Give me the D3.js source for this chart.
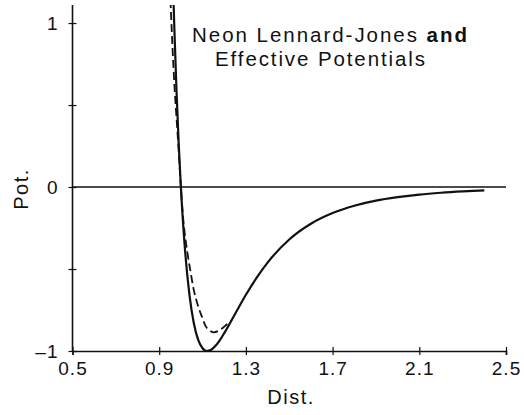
<!DOCTYPE html>
<html>
<head>
<meta charset="utf-8">
<script src="https://cdn.jsdelivr.net/npm/d3@7"></script>
<style>
  body { margin: 0; background: #fff; }
  svg text { font-family: "Liberation Sans", Arial, sans-serif; fill: #111; }
</style>
</head>
<body>
<svg id="chart" width="524" height="415"></svg>
<script>
// x ticks / y ticks
const xTicks = [0.5, 0.9, 1.3, 1.7, 2.1, 2.5];
const yTicks = [-1, -0.5, 0, 0.5, 1];

// Lennard-Jones potential (solid)
const ljDist = [0.965, 0.97, 0.98, 0.99, 1.00, 1.02, 1.04, 1.06, 1.08, 1.10, 1.12, 1.14, 1.16, 1.18, 1.20,
                1.25, 1.30, 1.35, 1.40, 1.50, 1.60, 1.70, 1.80, 1.90, 2.00, 2.10, 2.20, 2.30, 2.40];
const ljPot  = [1.178, 0.963, 0.582, 0.264, 0.0, -0.398, -0.663, -0.832, -0.932, -0.983, -1.0, -0.992, -0.968, -0.933, -0.891,
                -0.774, -0.657, -0.552, -0.461, -0.320, -0.224, -0.159, -0.114, -0.083, -0.062, -0.046, -0.035, -0.027, -0.021];

// effective potential (dashed), joins the solid curve near 1.235
const effDist = [0.952, 0.958, 0.964, 0.972, 0.981, 0.990, 1.000, 1.014, 1.030, 1.045, 1.060, 1.078, 1.097, 1.12, 1.15, 1.18, 1.21, 1.235];
const effPot  = [1.14, 0.95, 0.78, 0.58, 0.40, 0.22, 0.0, -0.24, -0.40, -0.52, -0.63, -0.72, -0.79, -0.86, -0.886, -0.872, -0.84, -0.812];

const svg = d3.select('#chart');

const x = d3.scaleLinear().domain([0.5, 2.5]).range([72.5, 506]);
const y = d3.scaleLinear().domain([-1, 1.11]).range([351, 5]);

svg.append('clipPath').attr('id', 'plot')
  .append('rect').attr('x', 72).attr('y', 5).attr('width', 440).attr('height', 346);

// zero line
svg.append('line')
  .attr('x1', x(0.5)).attr('x2', x(2.5))
  .attr('y1', y(0)).attr('y2', y(0))
  .attr('stroke', '#111').attr('stroke-width', 1.3);

// axes
const xAxis = svg.append('g')
  .attr('transform', `translate(0,${y(-1)})`)
  .call(d3.axisBottom(x).tickValues(xTicks).tickSizeOuter(0).tickSize(4).tickPadding(7)
    .tickFormat(d3.format('.1f')));

const yAxis = svg.append('g')
  .attr('transform', `translate(${x(0.5)},0)`)
  .call(d3.axisLeft(y).tickValues(yTicks).tickSizeOuter(0).tickSize(4).tickPadding(10)
    .tickFormat(d => Number.isInteger(d) ? (d < 0 ? '\u2013' + Math.abs(d) : d) : ''));

[xAxis, yAxis].forEach(g => {
  g.select('.domain').attr('stroke', '#111').attr('stroke-width', 1.6);
  g.selectAll('.tick line').attr('stroke', '#111').attr('stroke-width', 1.2);
  g.selectAll('.tick text').attr('font-size', 19).attr('fill', '#111')
    .attr('font-family', '"Liberation Sans", Arial, sans-serif')
    .style('letter-spacing', '1px');
});
xAxis.selectAll('.tick line').attr('y1', -4).attr('y2', 4);
yAxis.selectAll('.tick line').attr('x1', -4).attr('x2', 4);
yAxis.select('.domain').attr('d', `M0,${y(1.11)}V${y(-1)}`);

// curves
const lj = ljDist.map((d, i) => [x(d), y(ljPot[i])]);
const eff = effDist.map((d, i) => [x(d), y(effPot[i])]);

const curves = svg.append('g').attr('clip-path', 'url(#plot)');
curves.append('path').attr('d', d3.line().curve(d3.curveMonotoneX)(lj))
  .attr('fill', 'none').attr('stroke', '#111').attr('stroke-width', 2.2);
curves.append('path').attr('d', d3.line().curve(d3.curveCatmullRom)(eff))
  .attr('fill', 'none').attr('stroke', '#111').attr('stroke-width', 1.8)
  .attr('stroke-dasharray', '8,4');

// axis titles
svg.append('text').attr('x', 291).attr('y', 404).attr('text-anchor', 'middle')
  .attr('font-size', 20).style('letter-spacing', '1.5px').text('Dist.');
svg.append('text').attr('transform', 'translate(28,189) rotate(-90)').attr('text-anchor', 'middle')
  .attr('font-size', 20).style('letter-spacing', '1.5px').text('Pot.');

// title
const t1 = svg.append('text').attr('x', 192).attr('y', 42).attr('font-size', 20.5)
  .attr('textLength', 275).attr('lengthAdjust', 'spacing');
t1.append('tspan').text('Neon Lennard-Jones ');
t1.append('tspan').attr('font-weight', 'bold').text('and');
svg.append('text').attr('x', 215).attr('y', 66).attr('font-size', 20.5)
  .attr('textLength', 210).attr('lengthAdjust', 'spacing').text('Effective Potentials');
</script>
</body>
</html>
